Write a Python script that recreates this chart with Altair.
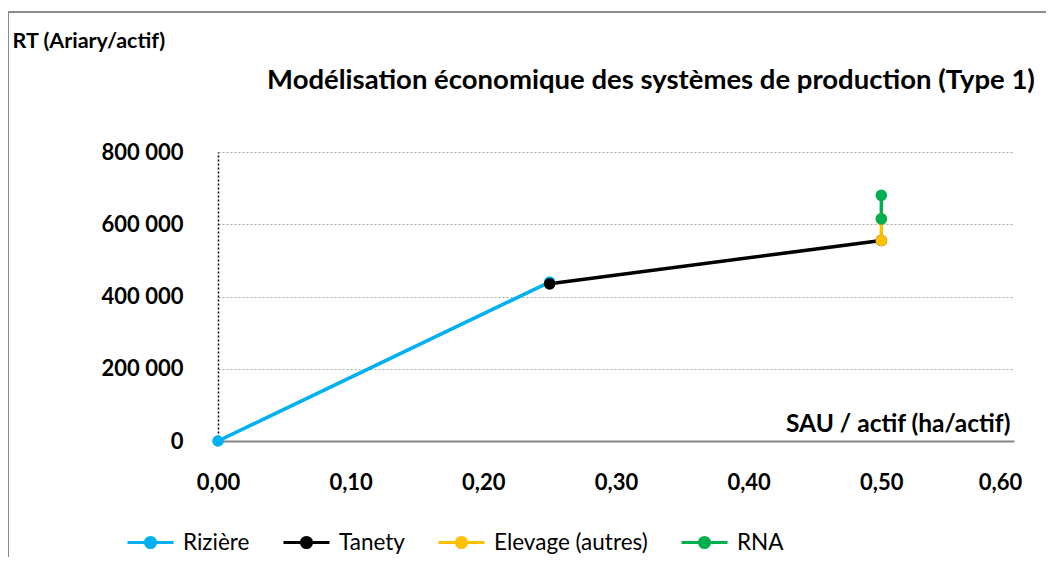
import altair as alt
import pandas as pd

series_names = ["Rizière", "Tanety", "Elevage (autres)", "RNA"]
series_colors = ["#00B0F0", "#000000", "#FFC000", "#00B050"]

riziere_x = [0.0, 0.25]
riziere_y = [0, 440000]
tanety_x = [0.25, 0.5]
tanety_y = [435000, 555000]
elevage_x = [0.5, 0.5]
elevage_y = [555000, 615000]
rna_x = [0.5, 0.5]
rna_y = [615000, 680000]

x_ticks = [0.0, 0.1, 0.2, 0.3, 0.4, 0.5, 0.6]
y_ticks = [0, 200000, 400000, 600000, 800000]

chart_title = "Modélisation économique des systèmes de production (Type 1)"

rows = []
for name, xs, ys in zip(series_names,
                        [riziere_x, tanety_x, elevage_x, rna_x],
                        [riziere_y, tanety_y, elevage_y, rna_y]):
    for i, (xv, yv) in enumerate(zip(xs, ys)):
        rows.append({"serie": name, "x": xv, "y": yv, "ordre": i})
df = pd.DataFrame(rows)

FONT = "Lato"
W, H = 796, 289

color = alt.Color(
    "serie:N",
    scale=alt.Scale(domain=series_names, range=series_colors),
    sort=series_names,
    legend=alt.Legend(
        title=None,
        orient="none",
        direction="horizontal",
        legendX=-92,
        legendY=366,
        symbolType="M-1,0H1M-0.22,0A0.22,0.22,0,1,1,0.22,0A0.22,0.22,0,1,1,-0.22,0",
        symbolSize=2116,
        symbolStrokeWidth=3,
        labelFont=FONT,
        labelFontSize=22.5,
        labelColor="#000000",
        labelOffset=8,
        columnPadding=27,
    ),
)

x_enc = alt.X(
    "x:Q",
    scale=alt.Scale(domain=[0, 0.6], nice=False),
    axis=alt.Axis(
        values=x_ticks,
        labelExpr="replace(format(datum.value, '.2f'), '.', ',')",
        labelFlush=False,
        labelOffset={"condition": {"test": "datum.value >= 0.59", "value": -14}, "value": 0},
        title="SAU / actif (ha/actif)",
        titleX=W - 4,
        titleY=-10,
        titleAlign="right",
        titleAnchor="end",
        titleBaseline="alphabetic",
        titleFont=FONT,
        titleFontSize=24.5,
        titleFontWeight="bold",
        titleColor="#000000",
        labelFont=FONT,
        labelFontSize=22,
        labelFontWeight="bold",
        labelColor="#000000",
        labelPadding=31,
        ticks=False,
        tickSize=0,
        grid=False,
        domainColor="#868686",
        domainWidth=2,
    ),
)

y_enc = alt.Y(
    "y:Q",
    scale=alt.Scale(domain=[0, 800000], nice=False),
    axis=alt.Axis(
        values=y_ticks,
        labelExpr="replace(format(datum.value, ',.0f'), ',', ' ')",
        title="RT (Ariary/actif)",
        titleAngle=0,
        titleX=-206,
        titleY=-105,
        titleAlign="left",
        titleBaseline="alphabetic",
        titleFont=FONT,
        titleFontSize=21.5,
        titleFontWeight="bold",
        titleColor="#000000",
        labelFont=FONT,
        labelFontSize=22,
        labelFontWeight="bold",
        labelColor="#000000",
        labelPadding=35,
        ticks=False,
        tickSize=0,
        grid=True,
        gridColor="#A6A6A6",
        gridDash=[2, 2],
        gridWidth=1,
        domainColor="#000000",
        domainDash=[2, 2],
        domainWidth=1.5,
    ),
)

lines = alt.Chart(df).mark_line(strokeWidth=3.5).encode(
    x=x_enc, y=y_enc, color=color, detail="serie:N", order="ordre:Q"
)
points = alt.Chart(df).mark_circle(size=135, opacity=1).encode(
    x="x:Q", y="y:Q", color=alt.Color("serie:N", legend=None,
                                      scale=alt.Scale(domain=series_names, range=series_colors))
)

title_df = pd.DataFrame({"t": [chart_title]})
title_mark = alt.Chart(title_df).mark_text(
    font=FONT, fontSize=27.5, fontWeight="bold", color="#000000",
    align="center", baseline="alphabetic",
).encode(text="t:N", x=alt.value(433), y=alt.value(-63))

frame_left = alt.Chart(title_df).mark_rule(color="#8C8C8C", strokeWidth=2).encode(
    x=alt.value(-210), y=alt.value(-140), y2=alt.value(425)
)
frame_top = alt.Chart(title_df).mark_rule(color="#8C8C8C", strokeWidth=2).encode(
    x=alt.value(-210), x2=alt.value(840), y=alt.value(-140)
)

chart = alt.layer(frame_left, frame_top, title_mark, lines, points).properties(
    width=W,
    height=H,
    autosize=alt.AutoSizeParams(type="none"),
    padding={"left": 210, "top": 144, "right": 32, "bottom": 116},
).configure_view(stroke=None)

chart.save("out.html", embed_options={"renderer": "svg", "actions": False})
